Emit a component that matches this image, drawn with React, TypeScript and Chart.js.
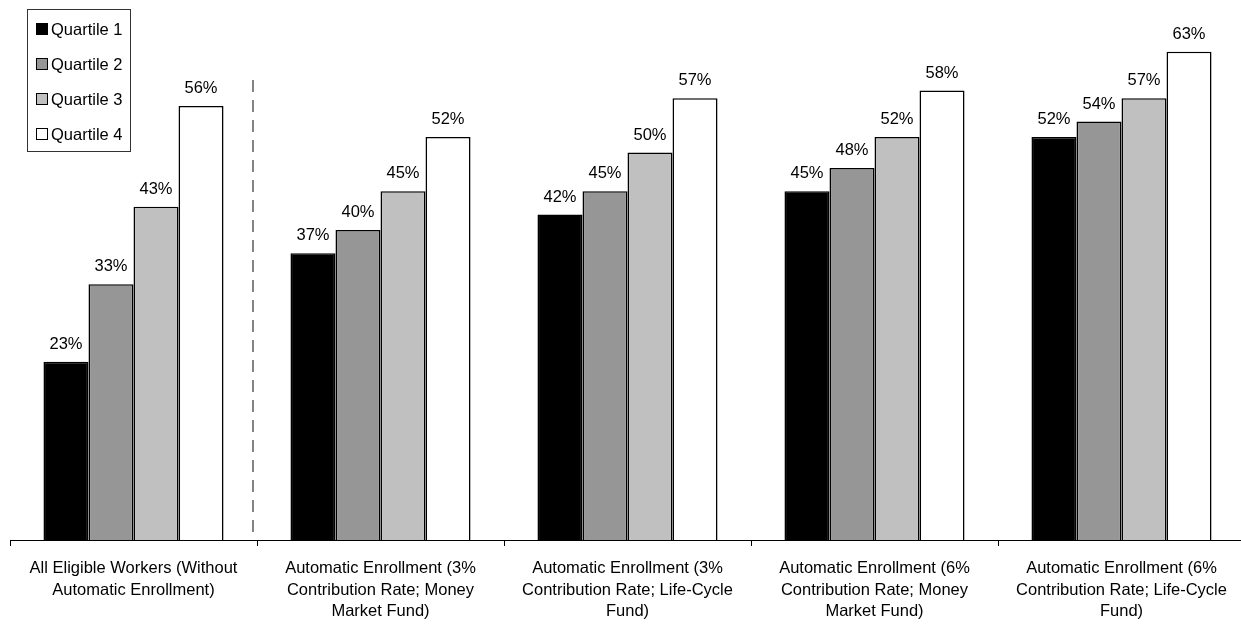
import React, { useEffect, useRef } from "react";
import { Chart, registerables } from "chart.js";

Chart.register(...registerables);

const categories: string[][] = [
  ["All Eligible Workers (Without", "Automatic Enrollment)"],
  ["Automatic Enrollment (3%", "Contribution Rate; Money", "Market Fund)"],
  ["Automatic Enrollment (3%", "Contribution Rate; Life-Cycle", "Fund)"],
  ["Automatic Enrollment (6%", "Contribution Rate; Money", "Market Fund)"],
  ["Automatic Enrollment (6%", "Contribution Rate; Life-Cycle", "Fund)"],
];

const seriesNames = ["Quartile 1", "Quartile 2", "Quartile 3", "Quartile 4"];
const quartile1 = [23, 37, 42, 45, 52];
const quartile2 = [33, 40, 45, 48, 54];
const quartile3 = [43, 45, 50, 52, 57];
const quartile4 = [56, 52, 57, 58, 63];
const fills = ["#000000", "#969696", "#c0c0c0", "#ffffff"];

const FONT = '"Liberation Sans", Arial, Helvetica, sans-serif';

const valueLabels = {
  id: "valueLabels",
  afterDatasetsDraw(chart: any) {
    const ctx = chart.ctx;
    ctx.save();
    ctx.font = `16.5px ${FONT}`;
    ctx.fillStyle = "#000";
    ctx.textAlign = "center";
    ctx.textBaseline = "alphabetic";
    chart.data.datasets.forEach((ds: any, i: number) => {
      const meta = chart.getDatasetMeta(i);
      meta.data.forEach((bar: any, j: number) => {
        ctx.fillText(`${ds.data[j]}%`, bar.x, bar.y - 13);
      });
    });
    ctx.restore();
  },
};

const separator = {
  id: "separator",
  afterDatasetsDraw(chart: any) {
    const ctx = chart.ctx;
    const xs = chart.scales.x;
    const x = (xs.getPixelForValue(0) + xs.getPixelForValue(1)) / 2 - 4;
    const ys = chart.scales.y;
    ctx.save();
    ctx.strokeStyle = "#333";
    ctx.lineWidth = 1.2;
    ctx.setLineDash([12, 8]);
    ctx.beginPath();
    ctx.moveTo(x, 80);
    ctx.lineTo(x, ys.getPixelForValue(0));
    ctx.stroke();
    ctx.restore();
  },
};

const boxLegend = {
  id: "boxLegend",
  afterDraw(chart: any) {
    const ctx = chart.ctx;
    ctx.save();
    ctx.fillStyle = "#fff";
    ctx.fillRect(27.5, 9.5, 103, 142);
    ctx.strokeStyle = "#333";
    ctx.lineWidth = 1;
    ctx.strokeRect(27.5, 9.5, 103, 142);
    ctx.font = `16.5px ${FONT}`;
    ctx.textBaseline = "middle";
    ctx.textAlign = "left";
    chart.data.datasets.forEach((ds: any, i: number) => {
      const cy = 29 + i * 35;
      ctx.fillStyle = ds.backgroundColor;
      ctx.fillRect(36.5, cy - 5.5, 11, 11);
      ctx.strokeStyle = "#000";
      ctx.lineWidth = 1;
      ctx.strokeRect(36.5, cy - 5.5, 11, 11);
      ctx.fillStyle = "#000";
      ctx.fillText(ds.label, 51, cy + 1);
    });
    ctx.restore();
  },
};

export default function App() {
  const ref = useRef<HTMLCanvasElement>(null);
  useEffect(() => {
    if (!ref.current) return;
    const series = [quartile1, quartile2, quartile3, quartile4];
    const chart = new Chart(ref.current, {
      type: "bar",
      data: {
        labels: categories,
        datasets: series.map((d, i) => ({
          label: seriesNames[i],
          data: d,
          backgroundColor: fills[i],
          borderColor: "#000",
          borderWidth: 1.6,
          barPercentage: 1,
          categoryPercentage: 0.729,
        })),
      },
      options: {
        responsive: false,
        maintainAspectRatio: false,
        animation: false,
        layout: { padding: { left: 10, right: 5, top: 13, bottom: 0 } },
        plugins: {
          legend: { display: false },
          tooltip: { enabled: false },
        },
        scales: {
          x: {
            offset: true,
            afterFit: (scale: any) => {
              scale.height = 84;
            },
            grid: {
              offset: true,
              drawOnChartArea: false,
              drawTicks: true,
              tickLength: 6,
              color: "#000",
            },
            border: { color: "#000", width: 1 },
            ticks: {
              color: "#000",
              font: { family: FONT, size: 16.5, lineHeight: 1.3 },
              padding: 12,
              maxRotation: 0,
              autoSkip: false,
            },
          },
          y: {
            display: false,
            min: 0,
            max: 68,
          },
        },
      },
      plugins: [separator, valueLabels, boxLegend],
    });
    return () => chart.destroy();
  }, []);
  return (
    <div
      style={{
        position: "absolute",
        left: 0,
        top: 0,
        width: 1241,
        height: 624,
        overflow: "hidden",
        background: "#fff",
      }}
    >
      <canvas
        ref={ref}
        width={1250}
        height={624}
        style={{ display: "block", width: 1250, height: 624 }}
      />
    </div>
  );
}
